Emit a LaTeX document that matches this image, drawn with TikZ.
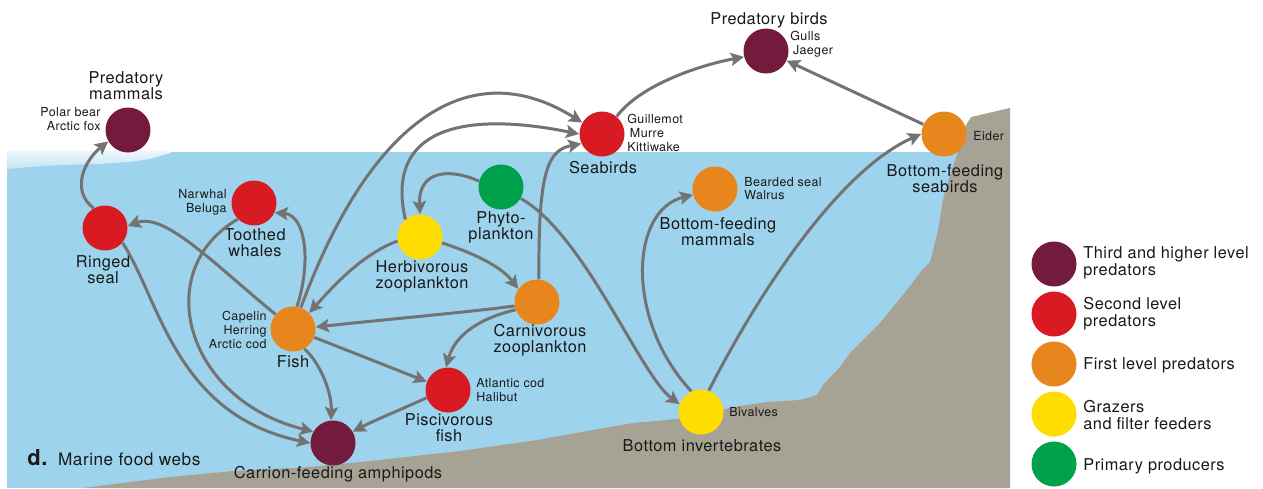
\documentclass[tikz,border=0pt]{standalone}
\usepackage{fontspec}
\setmainfont{TeX Gyre Heros}[LetterSpace=3]
\usetikzlibrary{arrows.meta}
\definecolor{third}{RGB}{116,26,61}
\definecolor{second}{RGB}{216,27,34}
\definecolor{first}{RGB}{232,134,30}
\definecolor{grazer}{RGB}{255,221,0}
\definecolor{producer}{RGB}{0,161,75}
\definecolor{water}{RGB}{157,211,236}
\definecolor{icetop}{RGB}{236,247,252}
\definecolor{icebot}{RGB}{196,228,243}
\definecolor{land}{RGB}{166,162,148}
\definecolor{arrgray}{RGB}{115,115,115}
\definecolor{ink}{RGB}{25,25,25}
\begin{document}
\begin{tikzpicture}[x=0.02cm,y=-0.02cm,
  dot/.style={circle,minimum size=0.9cm,inner sep=0pt},
  arr/.style={draw=arrgray,line width=1.7pt,-{Stealth[length=7.5pt,width=7.5pt,inset=1.5pt]}},
  lbl/.style={font=\fontsize{9.3}{9.1}\selectfont,align=center,inner sep=0pt,text=ink},
  sml/.style={font=\fontsize{7.1}{7.8}\selectfont,align=left,inner sep=0pt,text=ink},
  key/.style={font=\fontsize{9.3}{9.6}\selectfont,align=left,inner sep=0pt,anchor=west,text=ink}]
    \useasboundingbox (0,0) rectangle (1263,488);
    \fill[white] (0,0) rectangle (1263,488);
    % sea, ice and sea floor
    \fill[water] (7,152) rectangle (1010,488);
    \shade[top color=icetop,bottom color=icebot] (7,151) -- (172,151) -- (170,153) -- (150,159)
        -- (130,162) -- (100,164) -- (60,165) -- (30,167) -- (7,169) -- cycle;
    \fill[land] (83,488) -- (170,477) -- (233,471) -- (310,467) -- (370,461) -- (460,451)
        -- (537,440) -- (610,427) -- (633,423) -- (667,420) -- (700,416) -- (733,407)
        -- (767,402) -- (800,400) -- (817,395) -- (823,385) -- (840,367) -- (850,353)
        -- (880,323) -- (907,290) -- (922,270) -- (930,262) -- (938,230) -- (943,200)
        -- (950,175) -- (958,152) -- (963,130) -- (971,117) -- (1010,108) -- (1010,488) -- cycle;

    % species
    \node[dot,fill=third] (pmam) at (128,130) {};
    \node[dot,fill=second] (seal) at (105,228) {};
    \node[dot,fill=second] (whale) at (254,203) {};
    \node[dot,fill=first] (fish) at (293,329) {};
    \node[dot,fill=grazer] (hzoo) at (420,237) {};
    \node[dot,fill=producer] (phyto) at (501,187) {};
    \node[dot,fill=first] (czoo) at (537,302) {};
    \node[dot,fill=second] (pisc) at (448,390) {};
    \node[dot,fill=third] (amph) at (333,443) {};
    \node[dot,fill=second] (sbird) at (602,134) {};
    \node[dot,fill=third] (pbird) at (766,51) {};
    \node[dot,fill=first] (bmam) at (715,189) {};
    \node[dot,fill=first] (eider) at (944,134) {};
    \node[dot,fill=grazer] (binv) at (701,412) {};

    \node[lbl] (pmam-t) at (126,86) {Predatory\\mammals};
    \node[sml,anchor=east,align=right] (pmam-s) at (101,119) {Polar bear\\Arctic fox};
    \node[lbl] (seal-t) at (103,270) {Ringed\\seal};
    \node[sml,anchor=east,align=right] (whale-s) at (227,202) {Narwhal\\Beluga};
    \node[lbl] (whale-t) at (255,243) {Toothed\\whales};
    \node[sml,anchor=east,align=right] (fish-s) at (267,330) {Capelin\\Herring\\Arctic cod};
    \node[lbl] (fish-t) at (293,362) {Fish};
    \node[lbl] (hzoo-t) at (422,276) {Herbivorous\\zooplankton};
    \node[lbl] (phyto-t) at (501,227) {Phyto-\\plankton};
    \node[lbl] (czoo-t) at (540,340) {Carnivorous\\zooplankton};
    \node[sml,anchor=west] (pisc-s) at (476,390) {Atlantic cod\\Halibut};
    \node[lbl] (pisc-t) at (449,428) {Piscivorous\\fish};
    \node[lbl] (amph-t) at (338,474) {Carrion-feeding amphipods};
    \node[lbl] (sbird-t) at (603,168) {Seabirds};
    \node[sml,anchor=west] (sbird-s) at (627,133) {Guillemot\\\hspace*{1.5pt}Murre\\Kittiwake};
    \node[lbl] (pbird-t) at (769,20) {Predatory birds};
    \node[sml,anchor=west] (pbird-s) at (790,44) {Gulls\\\hspace*{1.5pt}Jaeger};
    \node[sml,anchor=west] (bmam-s) at (744,188.5) {Bearded seal\\Walrus};
    \node[lbl] (bmam-t) at (718,232) {Bottom-feeding\\mammals};
    \node[sml,anchor=west] (eider-s) at (973,136) {Eider};
    \node[lbl] (eider-t) at (945,178.5) {Bottom-feeding\\seabirds};
    \node[sml,anchor=west] (binv-s) at (729,412) {Bivalves};
    \node[lbl] (binv-t) at (702,446) {Bottom invertebrates};
    \node[anchor=west,inner sep=0pt,text=ink,font=\fontsize{9.8}{10}\selectfont] (title) at (27,458)
        {{\bfseries\fontsize{12.5}{12}\selectfont d.}\hspace{2pt} Marine food webs};

    % who eats whom
    \draw[arr] (seal.120) .. controls (70,190) and (85,160) .. (pmam.210);
    \draw[arr] (fish.140) .. controls (215,265) and (165,212) .. (seal.5);
    \draw[arr] (fish.80) .. controls (312,260) and (305,215) .. (whale.-25);
    \draw[arr] (fish) .. controls (370,120) and (470,52) .. (sbird.150);
    \draw[arr] (hzoo.130) .. controls (385,130) and (460,110) .. (sbird.180);
    \draw[arr] (czoo.85) .. controls (538,170) and (548,150) .. (sbird.205);
    \draw[arr] (phyto.165) .. controls (450,168) and (418,170) .. (hzoo.90);
    \draw[arr] (phyto.-30) .. controls (585,235) and (640,375) .. (binv.160);
    \draw[arr] (hzoo.190) .. controls (360,255) and (330,290) .. (fish.45);
    \draw[arr] (hzoo.-15) .. controls (470,252) and (500,265) .. (czoo.145);
    \draw[arr] (czoo.190) .. controls (470,312) and (380,320) .. (fish.5);
    \draw[arr] (czoo.200) .. controls (480,318) and (455,335) .. (pisc.95);
    \draw[arr] (fish) -- (pisc);
    \draw[arr] (fish.-60) .. controls (322,365) and (332,395) .. (amph.95);
    \draw[arr] (pisc.200) .. controls (400,410) and (375,420) .. (amph.30);
    \draw[arr] (seal.-40) .. controls (160,300) and (175,415) .. (amph.180);
    \draw[arr] (whale.225) .. controls (150,270) and (185,400) .. (amph.150);
    \draw[arr] (sbird.50) .. controls (640,85) and (700,65) .. (pbird.195);
    \draw[arr] (eider) -- (pbird);
    \draw[arr] (binv.115) .. controls (625,320) and (630,210) .. (bmam.195);
    \draw[arr] (binv.70) .. controls (760,290) and (840,170) .. (eider.180);

    % key
    \node[dot,fill=third] (k1) at (1054,264) {};
    \node[key] (k1-t) at (1083,263) {Third and higher level\\predators};
    \node[dot,fill=second] (k2) at (1054,314) {};
    \node[key] (k2-t) at (1083,313.5) {Second level\\predators};
    \node[dot,fill=first] (k3) at (1054,364) {};
    \node[key] (k3-t) at (1083,365) {First level predators};
    \node[dot,fill=grazer] (k4) at (1054,414) {};
    \node[key] (k4-t) at (1083,415) {Grazers\\and filter feeders};
    \node[dot,fill=producer] (k5) at (1054,464) {};
    \node[key] (k5-t) at (1083,466) {Primary producers};
\end{tikzpicture}
\end{document}
